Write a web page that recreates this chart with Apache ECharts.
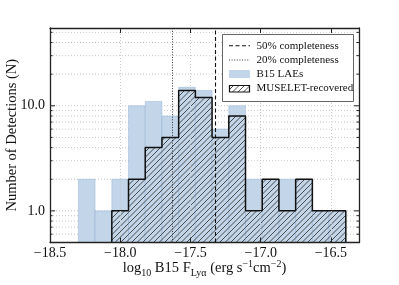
<!DOCTYPE html>
<html><head><meta charset="utf-8">
<script src="https://cdn.jsdelivr.net/npm/echarts@6/dist/echarts.min.js"></script>
<style>html,body{margin:0;padding:0;background:#fff}#c{width:399px;height:285px}</style>
</head><body><div id="c"></div>
<script>
// ---- data ----
const binEdges = [-18.298, -18.179, -18.060, -17.941, -17.822, -17.703, -17.584, -17.465, -17.346,
                  -17.227, -17.108, -16.989, -16.870, -16.751, -16.632, -16.513, -16.394];
const b15Counts     = [2, 1, 2, 10, 11, 8, 15, 14, 6, 10, 2, 2, 2, 2, 1, 1];
const museletCounts = [0, 0, 1, 2, 4, 5, 14, 12, 5, 8, 1, 2, 1, 2, 1, 1];
const completeness50 = -17.32;
const completeness20 = -17.63;
const xTickLabels = [-18.5, -18.0, -17.5, -17.0, -16.5];
const yMajorTicks = [1, 10];
const yMinorTicks = [0.6, 0.7, 0.8, 0.9, 2, 3, 4, 5, 6, 7, 8, 9, 20, 30, 40, 50];
const xMin = -18.5, xMax = -16.3, yMin = 0.5, yMax = 55;

const FONT = '"Liberation Serif", "DejaVu Serif", serif';
const BLUE = 'rgb(195,213,232)';

function hatchCanvas() {
  const c = document.createElement('canvas');
  const S = 11;
  c.width = S; c.height = S;
  const g = c.getContext('2d');
  g.strokeStyle = '#3a3a3a'; g.lineWidth = 0.9;
  g.beginPath();
  [0, 5.5, 11, 16.5, 22].forEach(k => { g.moveTo(k - S - 1, S + 1); g.lineTo(k + 1, -1); });
  g.stroke();
  return c;
}
const hatch = { image: hatchCanvas(), repeat: 'repeat' };

const b15Data = b15Counts.map((v, i) => [binEdges[i], binEdges[i + 1], v]).filter(d => d[2] > 0);
const musData = museletCounts.map((v, i) => [binEdges[i], binEdges[i + 1], v]).filter(d => d[2] > 0);

// step outline for recovered histogram
const first = museletCounts.findIndex(v => v > 0);
const outline = [[binEdges[first], yMin]];
for (let i = first; i < museletCounts.length; i++) {
  outline.push([binEdges[i], museletCounts[i]]);
  outline.push([binEdges[i + 1], museletCounts[i]]);
}
outline.push([binEdges[museletCounts.length], yMin]);

const yGrid = yMajorTicks.map(v => [v, 1]).concat(yMinorTicks.map(v => [v, 0]));

function barItem(fill, stroke, lw) {
  return function (params, api) {
    const p0 = api.coord([api.value(0), api.value(2)]);
    const p1 = api.coord([api.value(1), yMin]);
    return { type: 'rect', shape: { x: p0[0], y: p0[1], width: p1[0] - p0[0], height: p1[1] - p0[1] },
             style: { fill: fill, stroke: stroke, lineWidth: lw } };
  };
}

const chart = echarts.init(document.getElementById('c'), null, { renderer: 'canvas' });
const fmtX = v => (Math.abs(v * 2 - Math.round(v * 2)) > 1e-6) ? '' : v.toFixed(1).replace('-', '\u2212');
const fmtY = v => yMajorTicks.some(t => Math.abs(v - t) < 1e-6 * t) ? v.toFixed(1) : '';

chart.setOption({
  animation: false,
  grid: { left: 50, right: 40, top: 28, bottom: 42.5, containLabel: false, outerBoundsMode: 'none' },
  xAxis: [{
    type: 'value', min: xMin, max: xMax, interval: 0.5, position: 'bottom', z: 10,
    axisLine: { lineStyle: { color: '#222', width: 1.3 } },
    axisTick: { inside: true, length: 5, lineStyle: { color: '#222', width: 1 } },
    axisLabel: { formatter: fmtX, color: '#111', fontFamily: FONT, fontSize: 14, margin: 4 },
    splitLine: { show: true, lineStyle: { color: '#c8c8c8', type: [1, 2], width: 1 } },
    name: '{n|log}{sub|10}{n| B15 F}{sub|Ly\u03b1}{n| (erg s}{sup|\u22121}{n|cm}{sup|\u22122}{n|)}',
    nameLocation: 'middle', nameGap: 16.5, nameMoveOverlap: false,
    nameTextStyle: {
      rich: {
        n: { fontFamily: FONT, fontSize: 14.5, color: '#111', lineHeight: 19 },
        sub: { fontFamily: FONT, fontSize: 10, color: '#111', lineHeight: 12, verticalAlign: 'bottom' },
        sup: { fontFamily: FONT, fontSize: 10, color: '#111', lineHeight: 12, verticalAlign: 'top' }
      }
    }
  }, {
    type: 'value', min: xMin, max: xMax, interval: 0.5, position: 'top', z: 10,
    axisLine: { lineStyle: { color: '#222', width: 1.3 } },
    axisTick: { inside: true, length: 5, lineStyle: { color: '#222', width: 1 } },
    axisLabel: { show: false }, splitLine: { show: false }
  }],
  yAxis: [{
    type: 'log', min: yMin, max: yMax, logBase: 10, position: 'left', z: 10,
    axisLine: { show: true, lineStyle: { color: '#222', width: 1.3 } },
    axisTick: { show: false },
    axisLabel: { formatter: fmtY, color: '#111', fontFamily: FONT, fontSize: 14, margin: 5, showMinLabel: true, showMaxLabel: true },
    splitLine: { show: false },
    name: 'Number of Detections (N)', nameLocation: 'middle', nameGap: 30, nameMoveOverlap: false,
    nameTextStyle: { fontFamily: FONT, fontSize: 14.5, color: '#111' }
  }, {
    type: 'log', min: yMin, max: yMax, logBase: 10, position: 'right', z: 10,
    axisLine: { show: true, lineStyle: { color: '#222', width: 1.3 } },
    axisTick: { show: false }, axisLabel: { show: false }, splitLine: { show: false }
  }],
  series: [
    { // grid lines and y ticks
      type: 'custom', z: 0, silent: true, data: yGrid,
      renderItem: function (params, api) {
        const v = api.value(0), major = api.value(1) === 1;
        const a = api.coord([xMin, v]), b = api.coord([xMax, v]);
        const L = major ? 5 : 2.5;
        return { type: 'group', children: [
          { type: 'line', shape: { x1: a[0], y1: a[1], x2: b[0], y2: b[1] },
            style: { stroke: '#c8c8c8', lineWidth: 1, lineDash: [1, 2] } },
          { type: 'line', z2: 50, shape: { x1: a[0], y1: a[1], x2: a[0] + L, y2: a[1] },
            style: { stroke: '#222', lineWidth: 1 } },
          { type: 'line', z2: 50, shape: { x1: b[0] - L, y1: b[1], x2: b[0], y2: b[1] },
            style: { stroke: '#222', lineWidth: 1 } }
        ] };
      }
    },
    { name: 'B15 LAEs', type: 'custom', z: 2, data: b15Data,
      renderItem: barItem(BLUE, 'rgba(120,160,205,0.45)', 0.8) },
    { name: 'MUSELET-recovered', type: 'custom', z: 3, data: musData,
      renderItem: barItem(hatch, null, 0) },
    { type: 'line', z: 4, data: outline, showSymbol: false, symbol: 'none',
      lineStyle: { color: '#111', width: 1.5 },
      markLine: {
        symbol: 'none', silent: true, label: { show: false },
        data: [
          { xAxis: completeness50, lineStyle: { color: '#111', type: [4, 2.5], width: 1.1 } },
          { xAxis: completeness20, lineStyle: { color: '#333', type: [1, 1.6], width: 1 } }
        ]
      }
    }
  ],
  graphic: [
    { type: 'rect', z: 100, shape: { x: 222.5, y: 34.5, width: 131, height: 67 },
      style: { fill: '#fff', stroke: '#666', lineWidth: 1 } },
    { type: 'line', z: 101, shape: { x1: 229, y1: 45.7, x2: 250, y2: 45.7 },
      style: { stroke: '#111', lineWidth: 1.1, lineDash: [4, 2.5] } },
    { type: 'line', z: 101, shape: { x1: 229, y1: 60, x2: 250, y2: 60 },
      style: { stroke: '#333', lineWidth: 1, lineDash: [1, 1.6] } },
    { type: 'rect', z: 101, shape: { x: 229, y: 70, width: 21, height: 8 },
      style: { fill: BLUE } },
    { type: 'rect', z: 101, shape: { x: 229.5, y: 85.5, width: 20, height: 6.5 },
      style: { fill: hatch, stroke: '#111', lineWidth: 1.2 } },
    { type: 'text', z: 101, style: { text: '50% completeness', x: 256.5, y: 45.7, fill: '#111', font: '11px ' + FONT, verticalAlign: 'middle' } },
    { type: 'text', z: 101, style: { text: '20% completeness', x: 256.5, y: 60, fill: '#111', font: '11px ' + FONT, verticalAlign: 'middle' } },
    { type: 'text', z: 101, style: { text: 'B15 LAEs', x: 256.5, y: 74.3, fill: '#111', font: '11px ' + FONT, verticalAlign: 'middle' } },
    { type: 'text', z: 101, style: { text: 'MUSELET-recovered', x: 256.5, y: 88.5, fill: '#111', font: '11px ' + FONT, verticalAlign: 'middle' } }
  ]
});
</script></body></html>
